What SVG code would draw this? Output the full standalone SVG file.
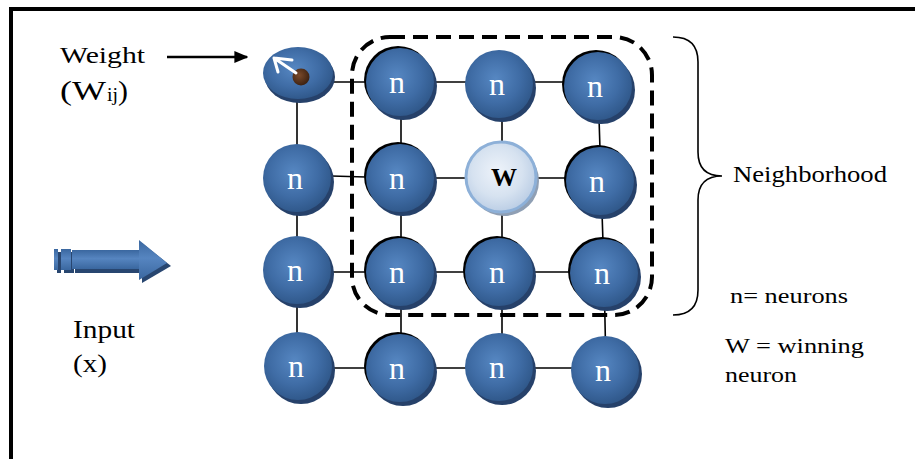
<svg xmlns="http://www.w3.org/2000/svg" width="915" height="459" viewBox="0 0 915 459">
  <defs>
    <radialGradient id="ball" cx="45%" cy="42%" r="60%">
      <stop offset="0" stop-color="#5687c2"/>
      <stop offset="0.6" stop-color="#3f6ca5"/>
      <stop offset="1" stop-color="#2f5789"/>
    </radialGradient>
    <radialGradient id="winBall" cx="45%" cy="42%" r="60%">
      <stop offset="0" stop-color="#eef3fa"/>
      <stop offset="0.6" stop-color="#d6e2f0"/>
      <stop offset="1" stop-color="#b9cce4"/>
    </radialGradient>
    <radialGradient id="dot" cx="40%" cy="40%" r="60%">
      <stop offset="0" stop-color="#7a4a2a"/>
      <stop offset="1" stop-color="#3f2312"/>
    </radialGradient>
    <linearGradient id="shaft" x1="0" y1="0" x2="0" y2="1">
      <stop offset="0" stop-color="#3a679f"/>
      <stop offset="0.45" stop-color="#5685c0"/>
      <stop offset="1" stop-color="#3a679f"/>
    </linearGradient>
    <marker id="tri" viewBox="0 0 10 10" refX="9" refY="5" markerWidth="14" markerHeight="12" markerUnits="userSpaceOnUse" orient="auto" preserveAspectRatio="none">
      <path d="M0,0 L10,5 L0,10 Z" fill="#000"/>
    </marker>
  </defs>
  <style>
    .frame { fill: none; stroke: #000; stroke-width: 4; }
    .link { stroke: #000; stroke-width: 1.6; fill: none; }
    .shadow { fill: #26416a; }
    .body { fill: url(#ball); }
    .rim { fill: #000; }
    .lbl { font-family: "Liberation Serif", "Times New Roman", serif; font-size: 32px; fill: #fff; text-anchor: middle; }
    .txt { font-family: "Liberation Serif", "Times New Roman", serif; fill: #000; }
    .hood { fill: none; stroke: #000; stroke-width: 4; stroke-dasharray: 15 8; }
    .brace { fill: none; stroke: #000; stroke-width: 1.6; }
  </style>

  <rect width="915" height="459" fill="#fff"/>
  <path class="frame" d="M11,459 V9 H915"/>

  <!-- grid links -->
  <g id="connectors">
    <path class="link" d="M299,82 H598"/>
    <path class="link" d="M297,175 L400,178 H600"/>
    <path class="link" d="M297,272 H604"/>
    <path class="link" d="M298,368 H605"/>
    <path class="link" d="M297,73 V366"/>
    <path class="link" d="M401,82 V368"/>
    <path class="link" d="M502,84 V367"/>
    <path class="link" d="M598,86 L601,181 L604,273 L606,370"/>
  </g>

  <!-- neighbourhood outline and brace -->
  <rect class="hood" x="352" y="37" width="300" height="278" rx="38"/>
  <path class="brace" d="M673,37 C690,37 698,45 698,62 V152 C698,168 706,176 722,176 C706,176 698,184 698,200 V290 C698,307 690,315 673,315"/>

  <!-- weight node -->
  <g id="weight">
    <ellipse cx="300" cy="77" rx="35" ry="26" class="shadow"/>
    <ellipse cx="298" cy="73" rx="35" ry="26" class="body"/>
    <circle cx="301" cy="77" r="8.5" fill="url(#dot)"/>
    <path d="M296,73 L274,58 M274,58 L292,60 M274,58 L278,72" stroke="#fff" stroke-width="3" fill="none" stroke-linecap="round"/>
  </g>

  <!-- row 1 -->
  <g id="n-r1c2">
    <circle cx="398" cy="80" r="34" class="rim"/>
    <circle cx="403" cy="86" r="34" class="shadow"/>
    <circle cx="400" cy="82" r="34" class="body"/>
    <text class="lbl" x="397" y="93">n</text>
  </g>
  <g id="n-r1c3">
    <circle cx="502" cy="88" r="34" class="shadow"/>
    <circle cx="499" cy="84" r="34" class="body"/>
    <text class="lbl" x="497" y="95">n</text>
  </g>
  <g id="n-r1c4">
    <circle cx="596" cy="84" r="34" class="rim"/>
    <circle cx="601" cy="90" r="34" class="shadow"/>
    <circle cx="598" cy="86" r="34" class="body"/>
    <text class="lbl" x="595" y="97">n</text>
  </g>

  <!-- row 2 -->
  <g id="n-r2c1">
    <circle cx="300" cy="182" r="34" class="shadow"/>
    <circle cx="297" cy="178" r="34" class="body"/>
    <text class="lbl" x="295" y="189">n</text>
  </g>
  <g id="n-r2c2">
    <circle cx="398" cy="176" r="34" class="rim"/>
    <circle cx="403" cy="182" r="34" class="shadow"/>
    <circle cx="400" cy="178" r="34" class="body"/>
    <text class="lbl" x="397" y="189">n</text>
  </g>
  <g id="w-r2c3">
    <circle cx="504" cy="181" r="35" fill="#8f9fb4"/>
    <circle cx="501" cy="177" r="35" fill="url(#winBall)" stroke="#8db0d8" stroke-width="3"/>
    <text x="504" y="186" font-family="'Liberation Serif', 'Times New Roman', serif" font-size="26" font-weight="bold" text-anchor="middle" fill="#000">W</text>
  </g>
  <g id="n-r2c4">
    <circle cx="598" cy="179" r="34" class="rim"/>
    <circle cx="603" cy="185" r="34" class="shadow"/>
    <circle cx="600" cy="181" r="34" class="body"/>
    <text class="lbl" x="597" y="192">n</text>
  </g>

  <!-- row 3 -->
  <g id="n-r3c1">
    <circle cx="300" cy="274" r="34" class="shadow"/>
    <circle cx="297" cy="270" r="34" class="body"/>
    <text class="lbl" x="295" y="281">n</text>
  </g>
  <g id="n-r3c2">
    <circle cx="398" cy="270" r="34" class="rim"/>
    <circle cx="403" cy="276" r="34" class="shadow"/>
    <circle cx="400" cy="272" r="34" class="body"/>
    <text class="lbl" x="397" y="283">n</text>
  </g>
  <g id="n-r3c3">
    <circle cx="497" cy="270" r="34" class="rim"/>
    <circle cx="502" cy="276" r="34" class="shadow"/>
    <circle cx="499" cy="272" r="34" class="body"/>
    <text class="lbl" x="497" y="283">n</text>
  </g>
  <g id="n-r3c4">
    <circle cx="602" cy="271" r="34" class="rim"/>
    <circle cx="607" cy="277" r="34" class="shadow"/>
    <circle cx="604" cy="273" r="34" class="body"/>
    <text class="lbl" x="602" y="284">n</text>
  </g>

  <!-- row 4 -->
  <g id="n-r4c1">
    <circle cx="301" cy="370" r="34" class="shadow"/>
    <circle cx="298" cy="366" r="34" class="body"/>
    <text class="lbl" x="296" y="377">n</text>
  </g>
  <g id="n-r4c2">
    <circle cx="398" cy="366" r="34" class="rim"/>
    <circle cx="403" cy="372" r="34" class="shadow"/>
    <circle cx="400" cy="368" r="34" class="body"/>
    <text class="lbl" x="397" y="379">n</text>
  </g>
  <g id="n-r4c3">
    <circle cx="502" cy="371" r="34" class="shadow"/>
    <circle cx="499" cy="367" r="34" class="body"/>
    <text class="lbl" x="497" y="378">n</text>
  </g>
  <g id="n-r4c4">
    <circle cx="608" cy="374" r="34" class="shadow"/>
    <circle cx="605" cy="370" r="34" class="body"/>
    <text class="lbl" x="603" y="381">n</text>
  </g>

  <!-- weight pointer -->
  <line x1="167" y1="57" x2="247" y2="57" stroke="#000" stroke-width="2.5" marker-end="url(#tri)"/>

  <!-- input block arrow -->
  <g id="input-arrow">
    <g fill="#284670">
      <rect x="57" y="252" width="4" height="21"/>
      <rect x="64" y="252" width="10" height="21"/>
      <rect x="75" y="253" width="67" height="20"/>
      <polygon points="142,243 171,266 142,283"/>
    </g>
    <g fill="url(#shaft)">
      <rect x="54" y="249" width="4" height="21"/>
      <rect x="61" y="249" width="10" height="21"/>
      <rect x="72" y="250" width="68" height="19"/>
      <polygon points="139,240 167,263 139,280"/>
    </g>
  </g>

  <!-- labels -->
  <text class="txt" x="60" y="63" font-size="24" textLength="85" lengthAdjust="spacingAndGlyphs">Weight</text>
  <text class="txt" x="60" y="100" font-size="28" textLength="46" lengthAdjust="spacingAndGlyphs">(W</text>
  <text class="txt" x="107" y="101" font-size="18" textLength="11" lengthAdjust="spacingAndGlyphs">ij</text>
  <text class="txt" x="118" y="100" font-size="28" textLength="10" lengthAdjust="spacingAndGlyphs">)</text>
  <text class="txt" x="73" y="338" font-size="25" textLength="62" lengthAdjust="spacingAndGlyphs">Input</text>
  <text class="txt" x="73" y="372" font-size="25" textLength="34" lengthAdjust="spacingAndGlyphs">(x)</text>
  <text class="txt" x="733" y="182" font-size="23" textLength="154" lengthAdjust="spacingAndGlyphs">Neighborhood</text>
  <text class="txt" x="730" y="303" font-size="22" textLength="118" lengthAdjust="spacingAndGlyphs">n= neurons</text>
  <text class="txt" x="725" y="353" font-size="22" textLength="139" lengthAdjust="spacingAndGlyphs">W = winning</text>
  <text class="txt" x="725" y="382" font-size="22" textLength="72" lengthAdjust="spacingAndGlyphs">neuron</text>
</svg>
